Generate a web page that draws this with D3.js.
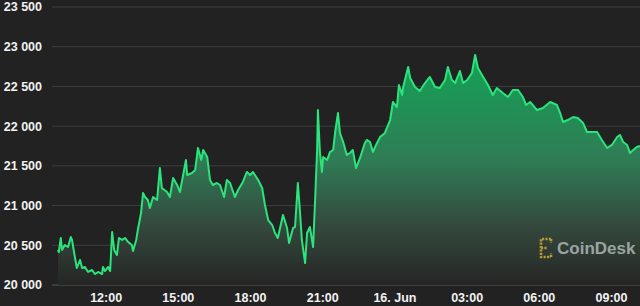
<!DOCTYPE html>
<html><head><meta charset="utf-8">
<script src="https://cdn.jsdelivr.net/npm/d3@7"></script>
<style>
html,body{margin:0;padding:0;background:#222222;}
svg{display:block;}
text{font-family:"Liberation Sans","Helvetica",Arial,sans-serif;}
</style></head><body>
<svg id="c" width="640" height="306"></svg>
<script>
// minutes after 15 Jun 10:00
const minutes = [0,2,7,10,17,25,32,35,42,47,55,60,67,75,85,92,100,110,112,117,125,130,135,140,147,152,160,167,175,184,187,195,199,207,212,217,224,229,237,247,254,259,272,279,287,297,304,312,319,322,334,342,349,357,362,372,379,386,396,404,414,421,429,441,449,461,471,479,486,499,509,516,524,534,541,548,561,571,576,586,591,598,603,608,616,621,628,636,641,646,648,653,658,661,671,678,686,691,698,703,711,720,728,735,743,753,765,770,778,785,793,803,815,828,835,845,850,858,860,873,878,890,902,915,927,940,952,965,972,982,990,1002,1010,1020,1032,1040,1047,1060,1072,1084,1094,1109,1122,1134,1147,1159,1167,1177,1194,1209,1227,1244,1252,1259,1271,1284,1296,1309,1319,1331,1344,1356,1369,1381,1394,1401,1409,1419,1426,1434,1443,1451];
const prices = [20441,20415,20592,20441,20504,20478,20604,20567,20353,20214,20315,20214,20227,20164,20189,20138,20164,20138,20227,20176,20227,20176,20667,20441,20378,20592,20567,20592,20541,20504,20428,20567,20692,20906,21158,21108,21070,20969,21108,21070,21473,21221,21171,21108,21347,21259,21171,21385,21574,21385,21410,21448,21725,21574,21700,21612,21322,21259,21284,21259,21108,21322,21284,21108,21196,21297,21423,21385,21423,21322,21221,21007,20818,20755,20655,20592,20881,20718,20529,20718,20730,21284,20944,20567,20277,20655,20730,20478,21070,21700,22203,21674,21423,21612,21574,21674,21700,21926,22165,21914,21800,21637,21662,21700,21473,21599,21788,21826,21800,21674,21763,21863,21914,22077,22304,22241,22518,22392,22480,22745,22606,22493,22442,22543,22619,22493,22480,22581,22745,22581,22543,22694,22543,22581,22669,22896,22732,22619,22518,22392,22480,22417,22367,22455,22455,22367,22266,22304,22203,22228,22304,22266,22165,22052,22077,22115,22103,22040,21926,21926,21926,21826,21725,21763,21863,21889,21800,21763,21662,21700,21737,21750];
const yTicks = [20000,20500,21000,21500,22000,22500,23000,23500];
const xTickHours = [12,15,18,21,24,27,30,33];

const svg = d3.select("#c");
const start = new Date(2022,5,15,10,0);
const data = minutes.map((m,i)=>({t:new Date(start.getTime()+m*60000), v:prices[i]}));

const x = d3.scaleTime().domain([start, data[data.length-1].t]).range([58,640]);
const y = d3.scaleLinear().domain([20000,23500]).range([285,7]);

// gradient
const defs = svg.append("defs");
const g = defs.append("linearGradient").attr("id","ag").attr("gradientUnits","userSpaceOnUse")
  .attr("x1",0).attr("x2",0).attr("y1",y(22900)).attr("y2",y(20000));
g.append("stop").attr("offset",0).attr("stop-color","#13a356");
g.append("stop").attr("offset",0.45).attr("stop-color","#2f7d55");
g.append("stop").attr("offset",0.75).attr("stop-color","#34483d");
g.append("stop").attr("offset",1).attr("stop-color","#252625");

// grid lines
svg.append("g").selectAll("line").data(yTicks).join("line")
  .attr("x1",52).attr("x2",640).attr("y1",d=>y(d)).attr("y2",d=>y(d))
  .attr("stroke",d=>d===20000?"#5a5a5a":"#3e3e3e").attr("stroke-width",1);

// area
svg.append("path").datum(data)
  .attr("d", d3.area().x(d=>x(d.t)).y0(y(20000)).y1(d=>y(d.v)))
  .attr("fill","url(#ag)");
// line
svg.append("path").datum(data)
  .attr("d", d3.line().x(d=>x(d.t)).y(d=>y(d.v)))
  .attr("fill","none").attr("stroke","#2be47c").attr("stroke-width",2).attr("stroke-linejoin","round");

// y labels
const fmtY = v => d3.format(",")(v).replace(",", " ");
svg.append("g").selectAll("text").data(yTicks).join("text")
  .attr("x",42).attr("y",d=>y(d)).attr("dy","0.35em").attr("text-anchor","end")
  .attr("fill","#f2f2f2").attr("font-size",12.5).attr("font-weight",600)
  .text(fmtY);

// x labels
const xTicks = xTickHours.map(h=>new Date(2022,5,15,h,0));
const fmtX = d => (d.getHours()===0 ? d.getDate()+". Jun" : d3.timeFormat("%H:%M")(d));
svg.append("g").selectAll("text").data(xTicks).join("text")
  .attr("x",d=>x(d)).attr("y",298).attr("dy","0.35em").attr("text-anchor","middle")
  .attr("fill","#f2f2f2").attr("font-size",12.5).attr("font-weight",600)
  .text(fmtX);

// CoinDesk watermark
const wm = svg.append("g").attr("transform","translate(539,238)");
wm.append("path").attr("d","M12,1 H2 V19 H12 M2,10 H8 M12,1 V5 M12,19 V15")
  .attr("fill","none").attr("stroke","#b89a35").attr("stroke-width",2.6).attr("stroke-dasharray","2.2 1.2");
svg.append("text").attr("x",557).attr("y",254).attr("fill","#9aa5a0")
  .attr("font-size",17).attr("font-weight",700).text("CoinDesk");
</script>
</body></html>
